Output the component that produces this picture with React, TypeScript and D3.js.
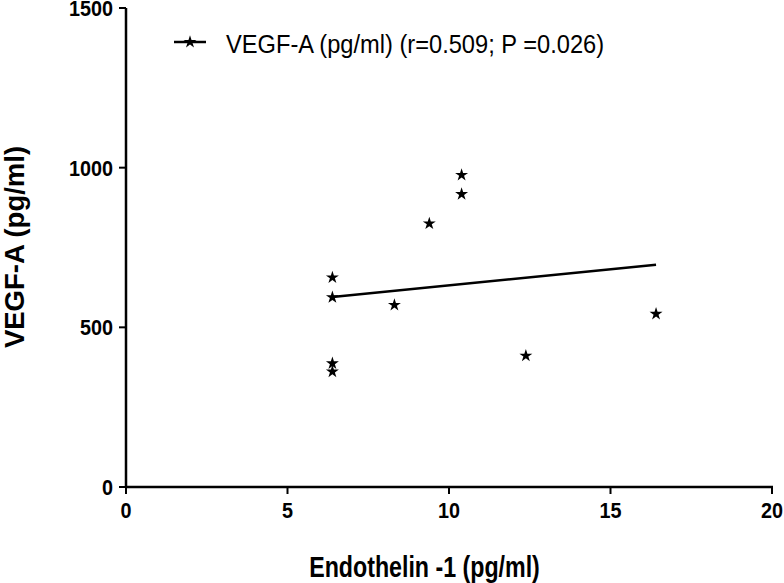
import React from "react";
import * as d3 from "d3";

const endothelin = [10.39, 10.39, 9.39, 6.39, 6.39, 8.31, 6.39, 6.39, 12.38, 16.41];
const vegfA = [977, 917, 825, 656, 594, 570, 387, 361, 411, 542];
const xTicks = [0, 5, 10, 15, 20];
const yTicks = [0, 500, 1000, 1500];
const legendLabel = "VEGF-A (pg/ml) (r=0.509; P =0.026)";
const xTitle = "Endothelin -1 (pg/ml)";
const yTitle = "VEGF-A (pg/ml)";

export default function App() {
  const W = 784, H = 583;
  const left = 126, right = 772, top = 8, bottom = 487;
  const x = d3.scaleLinear().domain([0, 20]).range([left, right]);
  const y = d3.scaleLinear().domain([0, 1500]).range([bottom, top]);
  const star = d3.symbol().type(d3.symbolStar).size(52)();

  const mx = d3.mean(endothelin)!;
  const my = d3.mean(vegfA)!;
  let sxy = 0, sxx = 0;
  endothelin.forEach((v, i) => { sxy += (v - mx) * (vegfA[i] - my); sxx += (v - mx) ** 2; });
  const slope = sxy / sxx;
  const icpt = my - slope * mx;
  const [x0, x1] = d3.extent(endothelin) as [number, number];

  const font = "Liberation Sans, Arial, sans-serif";
  return (
    <svg width={W} height={H} style={{ position: "absolute", left: 0, top: 0, background: "#fff" }}>
      <g fontFamily={font}>
        {/* axes */}
        <line x1={left} x2={left} y1={top} y2={bottom + 1} stroke="#000" strokeWidth={2.5} />
        <line x1={left - 1} x2={right + 1} y1={bottom} y2={bottom} stroke="#000" strokeWidth={2.5} />
        {yTicks.map((t) => (
          <g key={"y" + t}>
            <line x1={left - 7} x2={left} y1={y(t)} y2={y(t)} stroke="#000" strokeWidth={2} />
            <text transform={`translate(${left - 13},${y(t) + 8}) scale(0.9,1)`} textAnchor="end" fontSize={22} fontWeight="bold">{t}</text>
          </g>
        ))}
        {xTicks.map((t) => (
          <g key={"x" + t}>
            <line x1={x(t)} x2={x(t)} y1={bottom} y2={bottom + 7} stroke="#000" strokeWidth={2} />
            <text transform={`translate(${x(t)},${bottom + 31}) scale(0.9,1)`} textAnchor="middle" fontSize={22} fontWeight="bold">{t}</text>
          </g>
        ))}
        <text transform="translate(424.5,576.5) scale(0.8,1)" textAnchor="middle" fontSize={29} fontWeight="bold">{xTitle}</text>
        <text transform="translate(24,247) rotate(-90)" textAnchor="middle" fontSize={27.5} fontWeight="bold">{yTitle}</text>

        {/* regression line */}
        <line x1={x(x0)} x2={x(x1)} y1={y(icpt + slope * x0)} y2={y(icpt + slope * x1)} stroke="#000" strokeWidth={2.5} />
        {endothelin.map((v, i) => (
          <path key={i} d={star} transform={`translate(${x(v)},${y(vegfA[i])})`} fill="#000" />
        ))}

        {/* legend */}
        <line x1={174} x2={206} y1={42} y2={42} stroke="#000" strokeWidth={2.5} />
        <path d={star} transform="translate(190,42)" fill="#000" />
        <text transform="translate(226,53) scale(0.91,1)" fontSize={26}>{legendLabel}</text>
      </g>
    </svg>
  );
}
